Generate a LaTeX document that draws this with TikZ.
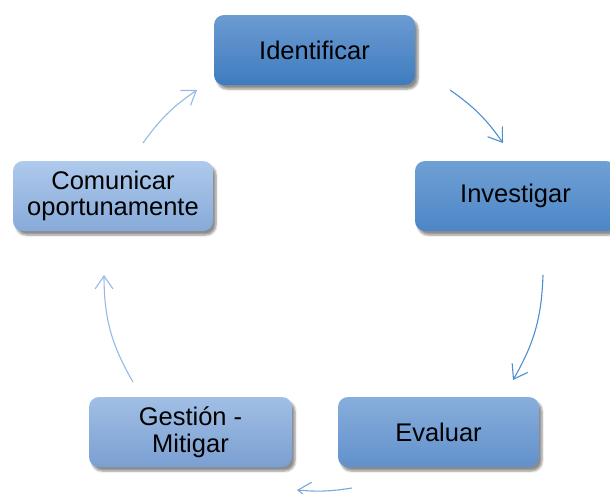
\documentclass[tikz,border=0pt]{standalone}
\usepackage{fontspec}
\setmainfont{Liberation Sans}
\usetikzlibrary{arrows.meta,shadows.blur}
\definecolor{idtop}{HTML}{6C9BD2}
\definecolor{idbot}{HTML}{3E7CBF}
\definecolor{intop}{HTML}{6FA0D4}
\definecolor{inbot}{HTML}{4D86C6}
\definecolor{evtop}{HTML}{88AEDC}
\definecolor{evbot}{HTML}{6191CB}
\definecolor{getop}{HTML}{A1BFE5}
\definecolor{gebot}{HTML}{7A9FD2}
\definecolor{cotop}{HTML}{AECAEC}
\definecolor{cobot}{HTML}{87AAD9}
\definecolor{arrA}{HTML}{4E8ED2}
\definecolor{arrB}{HTML}{7BA6DA}
\definecolor{arrC}{HTML}{95B9E4}
\begin{document}
\begin{tikzpicture}[x=1pt,y=-1pt,
  box/.style={rounded corners=10pt, minimum width=201pt, minimum height=70pt,
    inner sep=0pt, align=center, text=black,
    font=\fontsize{25.5}{26.5}\selectfont,
    blur shadow={shadow xshift=3pt, shadow yshift=-4pt, shadow blur steps=6, shadow opacity=45}},
  cyc/.style={line width=1.1pt, -{Straight Barb[length=13pt,width=18pt,line width=1.1pt]}}
]
\useasboundingbox (0,0) rectangle (610,493);
\node[box, top color=idtop, bottom color=idbot] (ident) at (314.5,50) {Identificar};
\node[box, top color=intop, bottom color=inbot] (inv) at (515.5,196) {Investigar};
\node[box, top color=evtop, bottom color=evbot] (eval) at (438.5,432) {Evaluar};
\node[box, minimum width=203pt, top color=getop, bottom color=gebot] (gest) at (190.5,432) {Gestión -\\Mitigar};
\node[box, minimum width=200pt, top color=cotop, bottom color=cobot] (com) at (113,196) {Comunicar\\oportunamente};

\coordinate (a1s) at (450,90);  \coordinate (a1e) at (503,143);
\coordinate (a2s) at (543,275); \coordinate (a2e) at (513,380);
\coordinate (a3s) at (352,488); \coordinate (a3e) at (297,490);
\coordinate (a4s) at (133,382); \coordinate (a4e) at (104,275);
\coordinate (a5s) at (143,143); \coordinate (a5e) at (197,90);

\draw[cyc, arrA] (a1s) to[bend left=10] (a1e);
\draw[cyc, arrA] (a2s) to[bend left=14] (a2e);
\draw[cyc, arrB] (a3s) to[bend left=7] (a3e);
\draw[cyc, arrC] (a4s) to[bend left=15] (a4e);
\draw[cyc, arrC] (a5s) to[bend left=10] (a5e);
\end{tikzpicture}
\end{document}
